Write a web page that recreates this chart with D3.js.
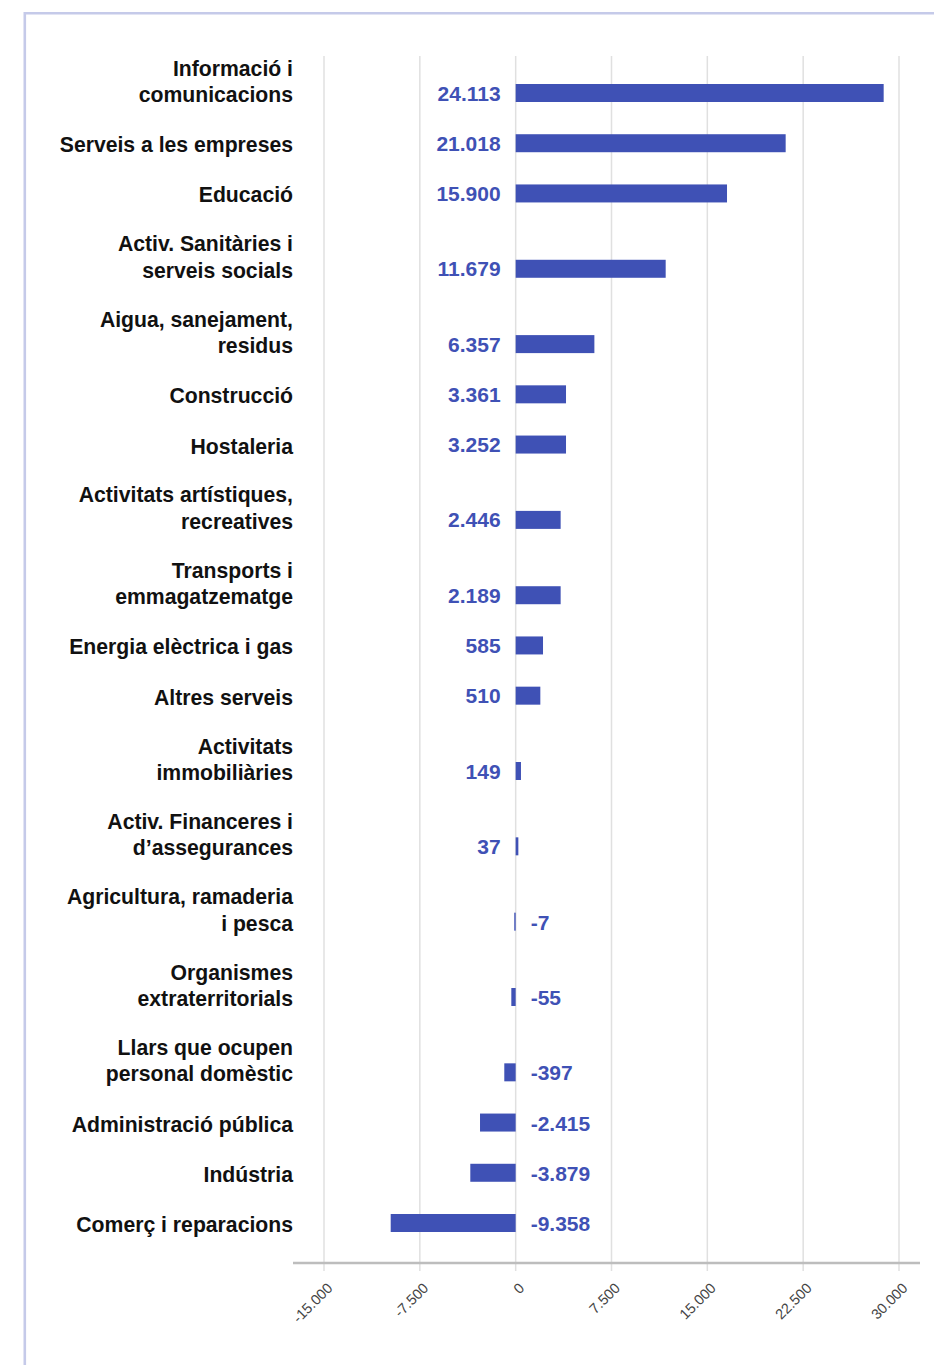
<!DOCTYPE html>
<html>
<head>
<meta charset="utf-8">
<script src="https://cdn.jsdelivr.net/npm/d3@7/dist/d3.min.js"></script>
<style>
  html, body { margin: 0; padding: 0; background: #fff; }
  svg { display: block; }
  text { font-family: "Liberation Sans", Arial, Helvetica, sans-serif; }
</style>
</head>
<body>
<svg id="chart" width="934" height="1365"></svg>
<script>
// ---- data ----
const categories = [
  ["Informació i", "comunicacions"],
  ["Serveis a les empreses"],
  ["Educació"],
  ["Activ. Sanitàries i", "serveis socials"],
  ["Aigua, sanejament,", "residus"],
  ["Construcció"],
  ["Hostaleria"],
  ["Activitats artístiques,", "recreatives"],
  ["Transports i", "emmagatzematge"],
  ["Energia elèctrica i gas"],
  ["Altres serveis"],
  ["Activitats", "immobiliàries"],
  ["Activ. Financeres i", "d\u2019assegurances"],
  ["Agricultura, ramaderia", "i pesca"],
  ["Organismes", "extraterritorials"],
  ["Llars que ocupen", "personal domèstic"],
  ["Administració pública"],
  ["Indústria"],
  ["Comerç i reparacions"]
];
// values shown in the labels
const values = [24113, 21018, 15900, 11679, 6357, 3361, 3252, 2446, 2189, 585, 510, 149, 37, -7, -55, -397, -2415, -3879, -9358];
// bar lengths as drawn in the reference picture
const barLengths = [28800, 21130, 16540, 11740, 6160, 3940, 3940, 3520, 3520, 2140, 1930, 415, 210, -110, -340, -890, -2790, -3550, -9780];
const tickValues = [-15000, -7500, 0, 7500, 15000, 22500, 30000];

// ---- setup ----
const svg = d3.select("#chart");
const locale = d3.formatLocale({decimal: ",", thousands: ".", grouping: [3], currency: ["", "€"], minus: "-"});
const fmt = locale.format(",d");

const blue = "#3f51b5";

// frame
svg.append("path")
  .attr("d", "M24.8,1365 V13.3 H934")
  .attr("fill", "none")
  .attr("stroke", "#c5cae9")
  .attr("stroke-width", 2.6);

const x = d3.scaleLinear().domain([-15000, 30000]).range([324, 899]);

// cumulative layout units: 2 per single-line row, 3 per two-line row
let acc = 0;
const units = categories.map(c => { acc += (c.length === 1 ? 2 : 3); return acc; });
const y = d3.scaleLinear().domain([3, 48]).range([93, 1223]);

const gridTop = 56, axisY = 1263;

// gridlines
svg.append("g").selectAll("line").data(tickValues).join("line")
  .attr("x1", d => x(d)).attr("x2", d => x(d))
  .attr("y1", gridTop).attr("y2", axisY + 8)
  .attr("stroke", "#e0e0e0").attr("stroke-width", 1.5);

// axis
const axis = d3.axisBottom(x).tickValues(tickValues).tickSize(0).tickFormat(d => fmt(d));
const gAxis = svg.append("g").attr("transform", `translate(0,${axisY})`).call(axis);
gAxis.select(".domain").remove();
gAxis.selectAll("text")
  .attr("font-size", 14.5)
  .attr("fill", "#444")
  .attr("text-anchor", "end")
  .attr("dy", null).attr("y", null)
  .attr("transform", "translate(9,26) rotate(-45)");
svg.append("line")
  .attr("x1", 293).attr("x2", 920)
  .attr("y1", axisY).attr("y2", axisY)
  .attr("stroke", "#bdbdbd").attr("stroke-width", 2.5);

// bars
const barH = 18;
svg.append("g").selectAll("rect").data(barLengths).join("rect")
  .attr("x", d => x(Math.min(0, d)))
  .attr("width", d => Math.max(1.2, Math.abs(x(d) - x(0))))
  .attr("y", (d, i) => y(units[i]) - barH / 2)
  .attr("height", barH)
  .attr("fill", blue);

// value labels
svg.append("g").selectAll("text").data(values).join("text")
  .attr("x", d => d >= 0 ? x(0) - 15 : x(0) + 15)
  .attr("y", (d, i) => y(units[i]) + 7.5 + (d < 0 ? 0.5 : 0))
  .attr("text-anchor", d => d >= 0 ? "end" : "start")
  .attr("font-size", 21)
  .attr("font-weight", "bold")
  .attr("fill", blue)
  .text(d => fmt(d));

// category labels
const lab = svg.append("g").selectAll("text").data(categories).join("text")
  .attr("text-anchor", "end")
  .attr("font-size", 21.2)
  .attr("font-weight", "bold")
  .attr("fill", "#111");
lab.each(function(lines, i) {
  const t = d3.select(this);
  const base = y(units[i]) + 9;
  lines.forEach((ln, k) => {
    t.append("tspan")
      .attr("x", 293)
      .attr("y", base - (lines.length - 1 - k) * 26.5)
      .text(ln);
  });
});
</script>
</body>
</html>
